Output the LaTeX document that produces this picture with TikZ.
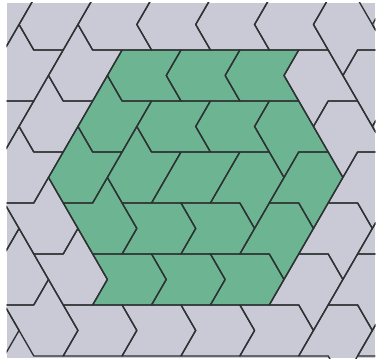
\documentclass[tikz,border=0pt]{standalone}
\definecolor{tilegray}{RGB}{202,202,214}
\definecolor{tilegreen}{RGB}{108,180,146}
\definecolor{edgecol}{RGB}{45,50,50}
\begin{document}
\begin{tikzpicture}[x=0.25cm,y=-0.433cm,line join=round]
    \useasboundingbox (-8.295,-1.961) rectangle (17.385,12.235);
    \fill [white] (-8.295,-1.961) rectangle (17.385,12.235);
    \fill [tilegray] (-7.85,-1.85) rectangle (17.2,12.1);
    % green hexagon
    \fill [tilegreen] (0,0) -- (12,0) -- (11,1) -- (15,5) -- (10,10) -- (-2,10) -- (-1,9) -- (-5,5) -- cycle;

    \begin{scope}[edgecol, line width=0.65pt]
    \clip (-7.85,-1.85) rectangle (17.2,12.1);
    % horizontal chevrons pointing left / right
    \foreach \a/\b in {-2/-2,2/-2,6/-2,10/-2,0/0,4/0,8/0,2/2,6/2}
        \draw (\a,\b) -- ++(4,0) -- ++(-1,1) -- ++(1,1) -- ++(-4,0) -- ++(-1,-1) -- cycle;
    \foreach \a/\b in {-4/10,0/10,4/10,8/10,-2/8,2/8,6/8,0/6,4/6}
        \draw (\a,\b) -- ++(4,0) -- ++(1,1) -- ++(-1,1) -- ++(-4,0) -- ++(1,-1) -- cycle;
    % long edges along /
    \foreach \p/\q in {-3/-1,-5/1,-7/3,-5/-3,-7/-1,-9/1,-11/3,-9/-3,-1/1,-3/3,1/3}
        \draw (\p,\q) -- ++(1,1) -- ++(2,0) -- ++(-2,2) -- ++(-2,0) -- ++(-1,-1) -- cycle;
    \foreach \p/\q in {13/11,15/9,17/7,15/13,17/11,19/9,21/7,19/13,11/9,13/7,9/7}
        \draw (\p,\q) -- ++(-1,-1) -- ++(-2,0) -- ++(2,-2) -- ++(2,0) -- ++(1,1) -- cycle;
    % long edges along \
    \foreach \p/\q in {11/1,13/3,13/-1,15/1,17/3,17/-1,9/3}
        \draw (\p,\q) -- ++(1,-1) -- ++(2,0) -- ++(2,2) -- ++(-2,0) -- ++(-1,1) -- cycle;
    \foreach \p/\q in {-1/9,-3/7,-3/11,-5/9,-7/7,-7/11,1/7}
        \draw (\p,\q) -- ++(-1,1) -- ++(-2,0) -- ++(-2,-2) -- ++(2,0) -- ++(1,-1) -- cycle;
    % rhombus in the middle
    \draw (4,4) -- (8,4) -- (6,6) -- (2,6) -- cycle;
    \end{scope}
\end{tikzpicture}
\end{document}
